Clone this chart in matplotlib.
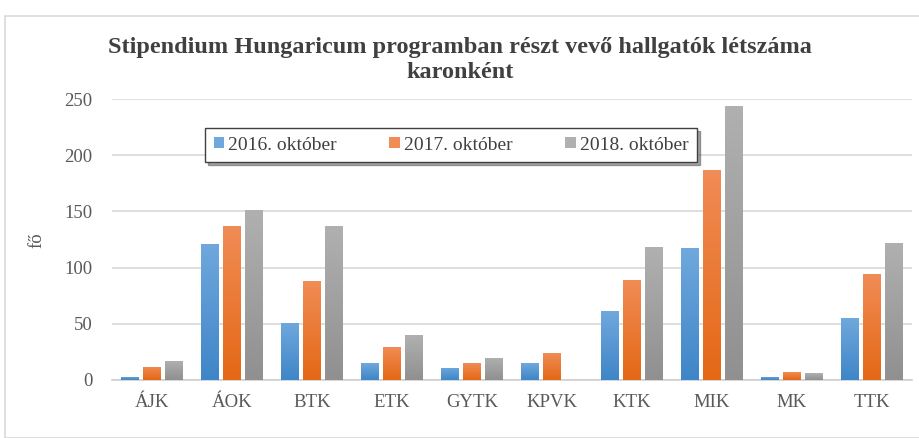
import numpy as np
import matplotlib
matplotlib.use("Agg")
import matplotlib.pyplot as plt
from matplotlib.colors import LinearSegmentedColormap
from matplotlib.patches import Rectangle

plt.rcParams['font.family'] = ['Liberation Serif', 'DejaVu Serif']

karok = ['ÁJK', 'ÁOK', 'BTK', 'ETK', 'GYTK', 'KPVK', 'KTK', 'MIK', 'MK', 'TTK']
okt_2016 = [3, 121, 51, 15, 11, 15, 61, 117, 3, 55]
okt_2017 = [12, 137, 88, 29, 15, 24, 89, 187, 7, 94]
okt_2018 = [17, 151, 137, 40, 20, 0, 118, 244, 6, 122]
sorozatok = ['2016. október', '2017. október', '2018. október']

# top / bottom colours of the gradient fill
szinek = [('#6fa8dc', '#3f86c8'), ('#f08c55', '#e46816'), ('#b0b0b0', '#909090')]

fig = plt.figure(figsize=(9.2, 4.38), dpi=100)
fig.patches.append(Rectangle((5 / 920, 0), 1.0, 1 - 16 / 438, transform=fig.transFigure,
                             fill=False, edgecolor='#d9d9d9', linewidth=1.2))
ax = fig.add_axes([112 / 920, 58 / 438, 800 / 920, 281 / 438])

x = np.arange(len(karok))
w = 0.225
step = 0.27
for i, (vals, nev) in enumerate(zip([okt_2016, okt_2017, okt_2018], sorozatok)):
    top, bot = szinek[i]
    cmap = LinearSegmentedColormap.from_list('g%d' % i, [bot, top])
    bars = ax.bar(x + (i - 1) * step, vals, width=w, color=top, label=nev, zorder=2)
    for b in bars:
        h = b.get_height()
        if h <= 0:
            continue
        x0 = b.get_x()
        grad = np.linspace(0, 1, 64).reshape(-1, 1)
        im = ax.imshow(grad, extent=(x0, x0 + b.get_width(), 0, h), origin='lower',
                       cmap=cmap, aspect='auto', zorder=3)
        im.set_clip_path(b)

ax.set_xlim(-0.5, len(karok) - 0.5)
ax.set_ylim(0, 250)
ax.set_yticks(range(0, 251, 50))
ax.set_xticks(x)
ax.set_xticklabels(karok)
ax.tick_params(length=0, labelsize=13.5, colors='#595959')
ax.tick_params(axis='x', pad=10)
ax.tick_params(axis='y', pad=14)
ax.yaxis.grid(True, color='#d9d9d9', linewidth=1.2, zorder=0)
ax.set_axisbelow(True)
for s in ['top', 'right', 'left']:
    ax.spines[s].set_visible(False)
ax.spines['bottom'].set_color('#d0d0d0')
ax.spines['bottom'].set_linewidth(1.2)
ax.set_ylabel('fő', fontsize=13.5, color='#595959')
ax.yaxis.set_label_coords(45 / 920, 1 - 240 / 438, transform=fig.transFigure)

fig.text(0.5, 1 - 60 / 438, 'Stipendium Hungaricum programban részt vevő hallgatók létszáma\nkaronként',
         ha='center', va='center', fontsize=17.5, fontweight='bold', color='#404040',
         linespacing=1.2)

leg = ax.legend(ncol=3, loc='center', bbox_to_anchor=(451 / 920, 1 - 145 / 438),
                bbox_transform=fig.transFigure, frameon=True, fancybox=False, shadow=True,
                fontsize=14, handlelength=0.55, handleheight=0.55, handletextpad=0.2,
                columnspacing=2.7, borderpad=0.45, borderaxespad=0, labelcolor='#404040')
leg.get_frame().set_edgecolor('#404040')
leg.get_frame().set_linewidth(1.0)

fig.savefig('out.png', dpi=100)
